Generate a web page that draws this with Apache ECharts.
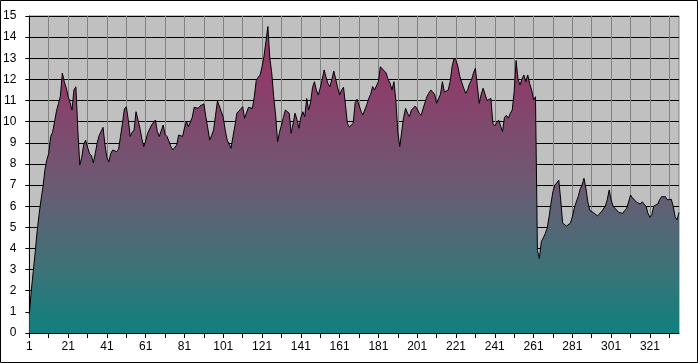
<!DOCTYPE html>
<html>
<head>
<meta charset="utf-8">
<script src="https://cdn.jsdelivr.net/npm/echarts@6/dist/echarts.min.js"></script>
<style>
html,body{margin:0;padding:0;background:#fff;}
#chart{width:698px;height:363px;}
</style>
</head>
<body>
<div id="chart"></div>
<script>
// values, category 1..336
const values = [
0.9,2.0,2.9,3.8,4.8,5.6,6.3,6.9,7.7,8.2,
8.5,9.3,9.5,10.0,10.5,10.85,11.2,12.3,11.9,11.6,
11.2,10.9,10.55,11.5,11.65,9.6,7.95,8.3,8.9,9.13,
8.8,8.5,8.4,8.05,8.5,9.0,9.35,9.4,9.73,8.9,
8.3,8.1,8.5,8.66,8.6,8.58,8.7,9.3,9.9,10.6,
10.7,10.1,9.3,9.5,9.6,10.47,10.4,9.7,9.2,8.82,
9.1,9.45,9.5,9.84,9.76,10.08,9.53,9.3,9.37,9.84,
9.4,9.3,9.37,8.82,8.66,8.75,8.9,9.37,9.3,9.3,
9.7,10.03,9.76,9.84,10.2,10.68,10.71,10.63,10.74,10.7,
10.84,10.24,9.7,9.13,9.35,9.6,10.3,10.98,10.9,10.47,
10.2,9.6,9.13,9.05,8.74,9.3,9.8,10.4,10.47,10.6,
10.71,10.16,10.16,10.68,10.63,10.63,11.18,11.95,12.1,12.21,
12.6,13.1,13.8,14.5,13.0,12.3,11.18,10.3,9.05,9.5,
9.84,10.2,10.55,10.5,10.4,9.45,9.9,10.4,10.1,9.69,
10.2,10.47,10.24,11.1,10.55,10.9,11.6,11.89,11.5,11.26,
11.6,12.0,12.45,12.1,11.8,11.66,12.0,12.4,12.0,11.6,
11.26,11.5,11.63,10.8,9.92,9.75,9.69,9.92,10.9,11.06,
11.09,10.5,10.32,10.4,10.8,11.1,11.3,11.66,11.5,11.42,
11.9,12.6,12.5,12.4,12.3,12.0,11.82,11.5,11.89,11.0,
9.5,8.82,9.5,10.2,10.63,10.4,10.24,10.55,10.6,10.74,
10.6,10.4,10.3,10.27,10.9,11.18,11.35,11.5,11.5,11.3,
10.87,10.95,11.3,11.89,11.4,11.34,11.5,11.9,12.6,13.0,
12.9,12.6,12.13,11.85,11.58,11.34,11.5,11.8,11.97,12.3,
12.53,11.7,10.87,11.3,11.58,11.3,11.0,10.95,11.1,9.92,
9.8,9.76,10.08,9.8,9.53,10.2,10.3,10.16,10.4,10.55,
11.42,12.89,12.0,11.74,12.0,12.21,11.89,12.21,11.8,11.5,
11.03,11.18,3.9,3.53,4.32,4.5,4.7,4.95,5.5,6.14,
6.7,7.0,7.1,7.24,6.3,5.2,5.11,5.06,5.06,5.2,
5.5,5.9,6.2,6.45,6.8,7.0,7.32,6.85,6.2,5.8,
5.72,5.69,5.65,5.54,5.6,5.74,5.8,6.0,6.3,6.77,
6.3,6.0,5.9,5.82,5.7,5.69,5.66,5.8,5.9,6.2,
6.53,6.4,6.33,6.2,6.14,6.1,6.21,6.1,6.0,5.66,
5.47,5.6,6.01,5.95,6.1,6.3,6.45,6.53,6.45,6.3,
6.21,6.33,6.0,5.5,5.35,5.7
];
const categories = values.map((v, i) => String(i + 1));
const yMin = 0, yMax = 15, yStep = 1;

const chart = echarts.init(document.getElementById('chart'), null, {renderer: 'canvas'});
const font = 'Arial, "Liberation Sans", sans-serif';
chart.setOption({
  animation: false,
  backgroundColor: '#ffffff',
  graphic: [{
    type: 'rect', z: 100, silent: true,
    shape: {x: 0.5, y: 0.5, width: 697, height: 362},
    style: {fill: 'none', stroke: '#000', lineWidth: 1}
  }],
  grid: {
    left: 29, top: 16, right: 19, bottom: 30,
    show: true, backgroundColor: '#c0c0c0', borderColor: '#808080', borderWidth: 1
  },
  xAxis: {
    type: 'category',
    data: categories,
    boundaryGap: false,
    axisLine: {show: true, lineStyle: {color: '#000', width: 1}},
    axisTick: {show: true, interval: 9, length: 5, lineStyle: {color: '#000'}},
    axisLabel: {interval: 19, color: '#000', fontSize: 12, fontFamily: font, margin: 8},
    splitLine: {show: true, interval: 9, lineStyle: {color: '#808080', width: 1}}
  },
  yAxis: {
    type: 'value',
    min: yMin, max: yMax, interval: yStep,
    axisLine: {show: true, lineStyle: {color: '#000', width: 1}},
    axisTick: {show: true, length: 4, lineStyle: {color: '#000'}},
    axisLabel: {color: '#000', fontSize: 12, fontFamily: font, margin: 13},
    splitLine: {show: true, lineStyle: {color: '#000', width: 1}}
  },
  series: [{
    type: 'line',
    data: values,
    symbol: 'none',
    smooth: false,
    lineStyle: {color: '#000', width: 1},
    areaStyle: {
      opacity: 1,
      color: new echarts.graphic.LinearGradient(0, 16, 0, 333, [
        {offset: 0, color: '#9b3264'},
        {offset: 0.2, color: '#8e3c69'},
        {offset: 0.533, color: '#6c5a73'},
        {offset: 0.8, color: '#3c7378'},
        {offset: 1, color: '#0f807e'}
      ], true)
    }
  }]
});
</script>
</body>
</html>
